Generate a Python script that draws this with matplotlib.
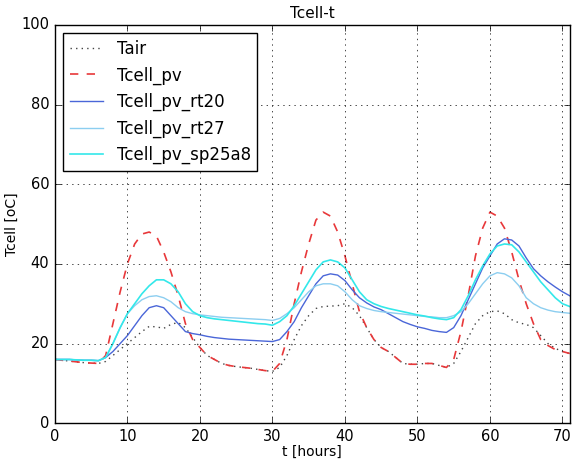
import numpy as np
import matplotlib
matplotlib.use('Agg')
import matplotlib.pyplot as plt

plt.style.use('classic')

# hourly values
hours = list(range(72))
tair = [16, 15.8, 15.6, 15.4, 15.2, 15.1, 15, 15.5, 17, 18.5, 20, 21.5, 23, 24.3, 24.2, 23.8, 24.8, 25.3, 24, 21.5,
        19, 17, 16, 15, 14.5, 14.2, 14, 13.8, 13.5, 13.2, 13, 14, 17, 21, 24.5, 27, 28.8, 29.3, 29.4, 29.5, 30, 29,
        27, 24, 21, 19, 18, 16.5, 15, 14.8, 14.8, 15, 15, 14.5, 14, 15, 18, 21.5, 25, 27, 28, 28.2, 27.5, 26, 25.2,
        24.8, 24, 22, 20, 18.8, 18, 17.5]
tcell_pv = [16, 15.8, 15.6, 15.4, 15.2, 15.1, 15, 17, 25, 33, 40, 45, 47.5, 48, 47, 43, 38, 32, 25, 21,
            19, 17, 16, 15, 14.5, 14.2, 14, 13.8, 13.5, 13.2, 13, 15, 21, 30, 38, 45, 51, 53, 52, 48, 42, 35,
            28, 24, 21, 19, 18, 16.5, 15, 14.8, 14.8, 15, 15, 14.5, 14, 16, 23, 32, 42, 49, 53, 52, 49, 43, 36,
            30, 25, 21, 19.5, 18.5, 18, 17.5]
tcell_rt20 = [16, 16, 16, 15.9, 15.8, 15.8, 15.7, 16.5, 18, 20, 22, 24.5, 27, 29, 29.5, 29, 27, 25, 23, 22.5,
              22.2, 21.8, 21.5, 21.3, 21.1, 21, 20.9, 20.8, 20.7, 20.6, 20.5, 21, 23, 25.5, 29, 32, 35, 37, 37.5, 37.2,
              35.8, 33.5, 31.5, 30.2, 29.2, 28.5, 27.5, 26.5, 25.5, 24.8, 24.2, 23.8, 23.3, 23, 22.8, 24, 27, 31, 35,
              39, 42, 45, 46.3, 46, 44.5, 41.5, 38.8, 37, 35.5, 34.2, 33, 32]
tcell_rt27 = [16, 16, 16, 15.9, 15.8, 15.8, 15.7, 16.5, 20, 24, 27.5, 29.5, 31, 31.8, 32, 31.5, 30.5, 29, 28, 27.5,
              27.2, 27, 26.8, 26.6, 26.5, 26.4, 26.3, 26.2, 26.1, 26, 25.8, 26.3, 27.5, 29, 31, 33, 34.5, 35, 35, 34.5,
              33, 31, 29.5, 28.8, 28.3, 28, 27.8, 27.6, 27.4, 27.2, 27, 26.8, 26.7, 26.5, 26.5, 27, 28, 30, 32.5, 35,
              37, 37.8, 37.5, 36.5, 34.5, 31.5, 30, 29, 28.4, 28, 27.8, 27.6]
tcell_sp25a8 = [16, 16, 16, 15.9, 15.8, 15.8, 15.7, 16.5, 20, 24, 27.5, 30, 32.5, 34.5, 36, 36, 35, 33, 30, 28,
                27, 26.5, 26.2, 26, 25.8, 25.6, 25.4, 25.2, 25, 24.9, 24.6, 25.5, 27, 29.5, 32.5, 35.5, 38.5, 40.5, 41,
                40.5, 39, 36, 33, 31, 30, 29.3, 28.8, 28.4, 28, 27.6, 27.2, 26.9, 26.5, 26.2, 26, 26.5, 28.5, 32, 36,
                39.5, 42.5, 44.5, 45, 44.8, 43, 40.5, 38, 35.5, 33.5, 31.5, 30, 29.3]

fig = plt.figure(figsize=(5.72, 4.62), dpi=100, facecolor='white')
ax = fig.add_axes([0.096, 0.084, 0.9, 0.862])

ax.plot(hours, tair, ':', color='#444444', lw=1, label='Tair')
ax.plot(hours, tcell_pv, '--', color='#e8383a', lw=1.2, label='Tcell_pv')
ax.plot(hours, tcell_rt20, '-', color='#4a66d8', lw=1, label='Tcell_pv_rt20')
ax.plot(hours, tcell_rt27, '-', color='#8ccef0', lw=1, label='Tcell_pv_rt27')
ax.plot(hours, tcell_sp25a8, '-', color='#33e8ea', lw=1.2, label='Tcell_pv_sp25a8')

ax.set_xlim(0, 71)
ax.set_ylim(0, 100)
ax.set_xticks(range(0, 71, 10))
ax.set_yticks(range(0, 101, 20))
ax.tick_params(labelsize=10.5)
ax.grid(True)
ax.set_title('Tcell-t', fontsize=11)
ax.set_xlabel('t [hours]', fontsize=10, labelpad=1)
ax.set_ylabel('Tcell [oC]', fontsize=10, labelpad=2)
ax.legend(loc='upper left', fontsize=12, numpoints=1)

fig.savefig('out.png', dpi=100)
